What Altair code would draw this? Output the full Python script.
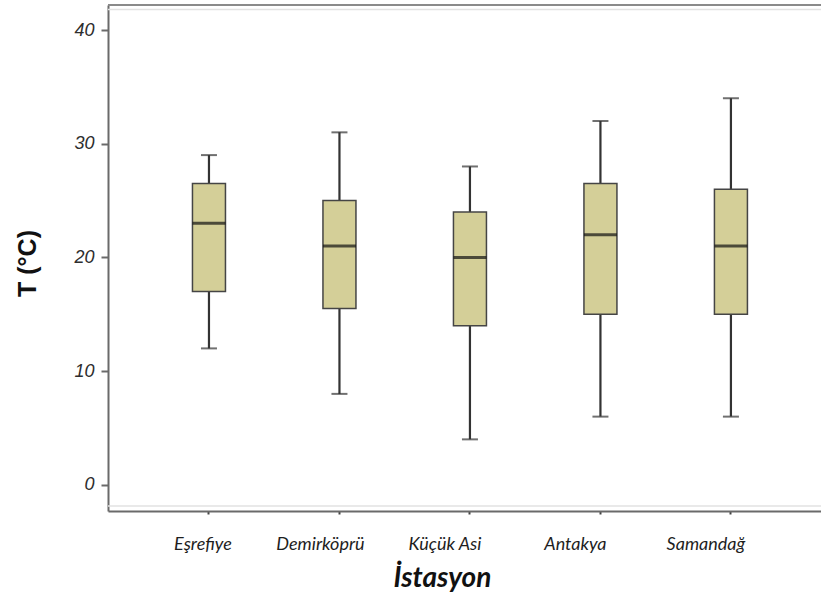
import altair as alt
import pandas as pd

# Station summary statistics (water temperature, °C)
stations = ["Eşrefiye", "Demirköprü", "Küçük Asi", "Antakya", "Samandağ"]
whisker_low = [12, 8, 4, 6, 6]
q1 = [17, 15.5, 14, 15, 15]
median = [23, 21, 20, 22, 21]
q3 = [26.5, 25, 24, 26.5, 26]
whisker_high = [29, 31, 28, 32, 34]
y_ticks = [0, 10, 20, 30, 40]
y_domain = [-2.3, 42.2]

df = pd.DataFrame({
    "istasyon": stations,
    "low": whisker_low,
    "q1": q1,
    "median": median,
    "q3": q3,
    "high": whisker_high,
})

# station labels sit a little left of their ticks
label_shift = {
    "condition": [
        {"test": "datum.value == 'Eşrefiye'", "value": -6},
        {"test": "datum.value == 'Demirköprü'", "value": -19},
    ],
    "value": -25,
}

x_enc = alt.X(
    "istasyon:N",
    sort=stations,
    scale=alt.Scale(paddingInner=0, paddingOuter=0.232, align=0.59),
    axis=alt.Axis(
        title="İstasyon",
        titleFont="Lato",
        titleFontSize=28,
        titleFontWeight="bold",
        titleFontStyle="italic",
        titleColor="#111111",
        titleX=334,
        titleY=67,
        titleBaseline="middle",
        titleAlign="center",
        labelFont="Lato",
        labelFontSize=18,
        labelFontStyle="italic",
        labelColor="#1e1e1e",
        labelAngle=0,
        labelPadding=21,
        labelOffset=label_shift,
        tickSize=3,
        tickColor="#444444",
        tickWidth=2,
        domainColor="#6a6a6a",
        domainWidth=2,
        grid=False,
    ),
)

y_scale = alt.Scale(domain=y_domain, nice=False, zero=False)
y_axis = alt.Axis(
    title="T (°C)",
    values=y_ticks,
    titleFont="Liberation Sans",
    titleFontSize=25,
    titleFontWeight="bold",
    titleColor="#111111",
    titleX=-81,
    titleY=258,
    titleAlign="center",
    titleBaseline="middle",
    labelFont="Liberation Sans",
    labelFontSize=18,
    labelFontStyle="italic",
    labelColor="#2e2e2e",
    labelPadding=7,
    tickSize=7,
    tickColor="#6a6a6a",
    tickWidth=2,
    domainColor="#6a6a6a",
    domainWidth=2,
    grid=False,
)


def y_of(field):
    return alt.Y(f"{field}:Q", scale=y_scale, axis=y_axis)


base = alt.Chart(df).encode(x=x_enc)

whiskers = base.mark_rule(color="#333333", strokeWidth=2.2).encode(
    y=y_of("low"), y2="high:Q"
)

caps_low = base.mark_tick(color="#333333", size=16, thickness=2).encode(y=y_of("low"))
caps_high = base.mark_tick(color="#333333", size=16, thickness=2).encode(y=y_of("high"))

boxes = base.mark_bar(
    size=33, fill="#d4cf98", stroke="#454545", strokeWidth=1.5
).encode(y=y_of("q1"), y2="q3:Q")

medians = base.mark_tick(color="#111111", size=33, thickness=3).encode(y=y_of("median"))

# upper edge of the plot frame
top_edge = alt.Chart(pd.DataFrame({"v": [y_domain[1]]})).mark_rule(
    color="#8a8a8a", strokeWidth=2
).encode(y=alt.Y("v:Q", scale=y_scale, axis=y_axis))

# faint inner frame lines
inner_top = alt.Chart(pd.DataFrame({"v": [y_domain[1] - 0.4]})).mark_rule(
    color="#e2e2e2", strokeWidth=1.5
).encode(y=alt.Y("v:Q", scale=y_scale, axis=y_axis))
inner_bottom = alt.Chart(pd.DataFrame({"v": [y_domain[0] + 0.45]})).mark_rule(
    color="#e2e2e2", strokeWidth=1.5
).encode(y=alt.Y("v:Q", scale=y_scale, axis=y_axis))

chart = (
    alt.layer(inner_top, inner_bottom, top_edge, whiskers, caps_low, caps_high, boxes, medians)
    .properties(
        width=713,
        height=506,
        autosize=alt.AutoSizeParams(type="none"),
        padding={"left": 108, "top": 5, "right": 0, "bottom": 83},
        background="white",
    )
    .configure_view(stroke=None)
)

chart.save("out.html", embed_options={"renderer": "svg", "actions": False})
